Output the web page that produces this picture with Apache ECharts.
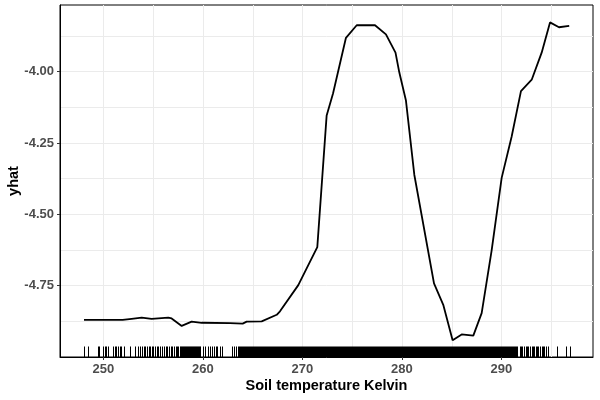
<!DOCTYPE html>
<html>
<head>
<meta charset="utf-8">
<script src="https://cdn.jsdelivr.net/npm/echarts@6/dist/echarts.min.js"></script>
<style>
html,body{margin:0;padding:0;background:#fff;}
#chart{width:600px;height:400px;}
</style>
</head>
<body>
<div id="chart"></div>
<script>
// ---- data ----
const curveX = [248.06, 251.95, 252.85, 253.86, 254.86, 256.53, 256.87, 257.88, 258.88, 259.89,
  262.73, 264.01, 264.41, 265.92, 267.43, 267.76, 269.60, 271.51, 272.45, 273.09,
  274.39, 275.47, 277.31, 278.41, 279.37, 279.75, 280.42, 281.26, 283.24, 284.17,
  285.11, 286.02, 287.19, 288.03, 289.03, 290.04, 291.04, 291.98, 293.06, 294.06,
  294.90, 295.80, 296.83];
const curveY = [-4.870, -4.870, -4.866, -4.862, -4.866, -4.862, -4.865, -4.891, -4.876, -4.880,
  -4.881, -4.883, -4.876, -4.875, -4.852, -4.840, -4.748, -4.615, -4.153, -4.076,
  -3.881, -3.837, -3.837, -3.869, -3.933, -4.002, -4.101, -4.361, -4.742, -4.817,
  -4.941, -4.921, -4.925, -4.846, -4.627, -4.372, -4.228, -4.068, -4.028, -3.933,
  -3.827, -3.844, -3.839];

// individual rug marks (Kelvin)
const rugTicks = [248.06, 248.49, 249.42, 249.60, 249.94, 250.14, 250.30, 250.44, 250.94, 251.15,
  251.31, 251.48, 251.65, 251.78, 252.08, 252.73, 253.19, 253.46, 253.69, 253.89,
  254.06, 254.22, 254.39, 254.56, 254.69, 254.86, 255.03, 255.20, 255.37, 255.53,
  255.70, 255.90, 256.10, 256.27, 256.40, 256.60, 256.80, 256.95, 257.11, 257.26,
  257.41, 257.56,
  260.05, 260.22, 260.55, 260.77, 260.92, 261.08, 261.28, 261.43, 261.73, 261.90,
  262.93, 263.11, 263.34,
  291.85, 291.95, 292.05, 292.28, 292.53, 292.63, 292.73, 292.85, 293.06, 293.19,
  293.32, 293.46, 293.59, 293.72, 293.89, 294.06, 294.19, 294.32, 294.46, 294.74,
  295.60, 296.55, 296.90];
// stretches where rug marks are so dense they merge into a solid band
const rugBandStart = [257.71, 263.54];
const rugBandEnd = [259.87, 291.71];

const xTickValues = [250, 260, 270, 280, 290];
const xGridValues = [250, 255, 260, 265, 270, 275, 280, 285, 290, 295];
const yTickValues = [-4.75, -4.5, -4.25, -4.0];

const xTitle = 'Soil temperature Kelvin';
const yTitle = 'yhat';

// ---- layout / style ----
const X_MIN = 245.65, X_MAX = 299.22;
const Y_MIN = -5.0, Y_MAX = -3.766;
const GRID = {left: 60, right: 7, top: 5, bottom: 43};
const FONT = 'Liberation Sans, Arial, sans-serif';
const gridColor = '#EBEBEB';
const panelCenterX = GRID.left + (600 - GRID.left - GRID.right) / 2;
const panelCenterY = GRID.top + (400 - GRID.top - GRID.bottom) / 2;

const curveData = curveX.map((x, i) => [x, curveY[i]]);
const rugData = rugTicks.map(v => [v, v]).concat(rugBandStart.map((s, i) => [s, rugBandEnd[i]]));

const chart = echarts.init(document.getElementById('chart'), null, {renderer: 'canvas'});

function renderRug(params, api) {
  const cs = params.coordSys;
  const a = Math.round(api.coord([api.value(0), Y_MIN])[0]);
  const b = Math.round(api.coord([api.value(1), Y_MIN])[0]);
  const len = cs.height * 0.03;
  const bottom = cs.y + cs.height;
  return {
    type: 'rect',
    shape: {x: Math.min(a, b), y: bottom - len, width: Math.max(1, Math.abs(b - a)), height: len},
    style: {fill: '#000'}
  };
}

function renderVGrid(params, api) {
  const cs = params.coordSys;
  const x = Math.round(api.coord([api.value(0), Y_MIN])[0]) + 0.5;
  return {
    type: 'line',
    shape: {x1: x, y1: cs.y, x2: x, y2: cs.y + cs.height},
    style: {stroke: gridColor, lineWidth: 1}
  };
}

const option = {
  animation: false,
  backgroundColor: '#fff',
  grid: Object.assign({show: true, borderColor: '#000', borderWidth: 1, backgroundColor: 'transparent', containLabel: false}, GRID),
  xAxis: {
    type: 'value', min: X_MIN, max: X_MAX,
    axisLine: {show: true, onZero: false, lineStyle: {color: '#000', width: 1}},
    axisTick: {show: true, length: 3, lineStyle: {color: '#333'}, customValues: xTickValues},
    axisLabel: {show: true, customValues: xTickValues, margin: 6, color: '#4D4D4D', fontSize: 13, fontWeight: 'bold', fontFamily: FONT},
    splitLine: {show: false},
    minorSplitLine: {show: false}
  },
  yAxis: {
    type: 'value', min: Y_MIN, max: Y_MAX, interval: 0.25,
    axisLine: {show: true, onZero: false, lineStyle: {color: '#000', width: 1}},
    axisTick: {show: true, length: 3, lineStyle: {color: '#333'}, customValues: yTickValues},
    axisLabel: {show: true, customValues: yTickValues, margin: 6, color: '#4D4D4D', fontSize: 13, fontWeight: 'bold', fontFamily: FONT,
      formatter: v => v.toFixed(2)},
    splitLine: {show: true, lineStyle: {color: gridColor, width: 1}},
    minorTick: {show: false, splitNumber: 2},
    minorSplitLine: {show: true, lineStyle: {color: gridColor, width: 1}}
  },
  graphic: [
    {type: 'text', x: panelCenterX, y: 378,
      style: {text: xTitle, fill: '#000', font: 'bold 14.5px ' + FONT, align: 'center', verticalAlign: 'top'}},
    {type: 'text', x: 6, y: panelCenterY, rotation: Math.PI / 2,
      style: {text: yTitle, fill: '#000', font: 'bold 14.5px ' + FONT, align: 'center', verticalAlign: 'top'}}
  ],
  series: [
    {
      type: 'custom', renderItem: renderVGrid, data: xGridValues.map(v => [v]),
      encode: {x: 0}, clip: true, silent: true, z: 0
    },
    {
      type: 'custom', renderItem: renderRug, data: rugData,
      encode: {x: [0, 1]}, clip: true, silent: true, z: 3
    },
    {
      type: 'line', data: curveData, showSymbol: false, symbol: 'none',
      lineStyle: {color: '#000', width: 1.8}, z: 4, silent: true
    }
  ]
};
chart.setOption(option);
</script>
</body>
</html>
